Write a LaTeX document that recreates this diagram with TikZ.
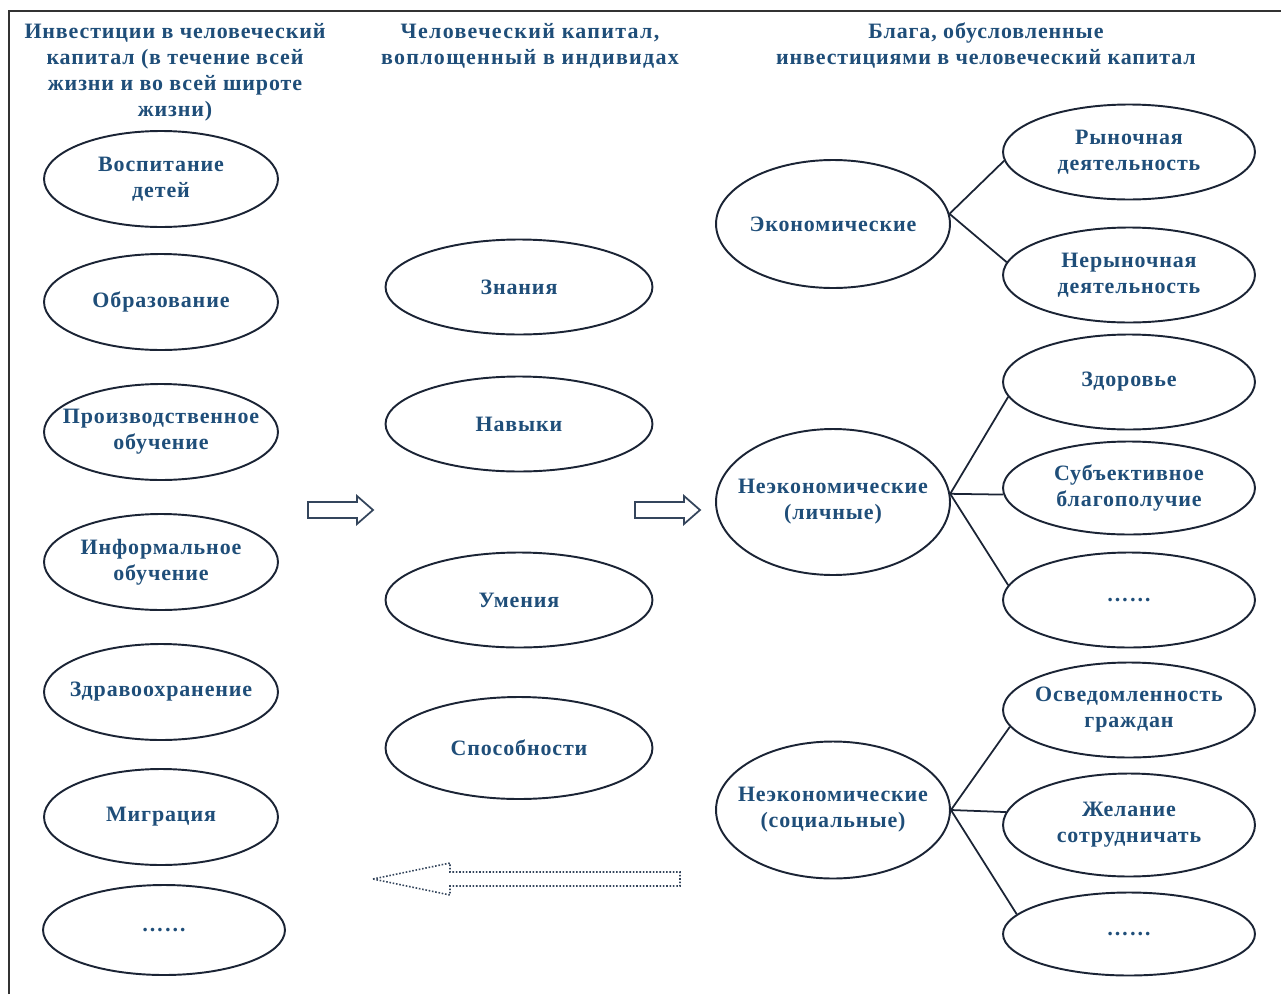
\documentclass[tikz,border=0pt]{standalone}
\usepackage{fontspec}
\setmainfont{Liberation Serif}
\newfontfamily\lblfont[LetterSpace=4]{Liberation Serif Bold}
\newfontfamily\widefont[LetterSpace=6]{Liberation Serif Bold}
\usepackage{xcolor}
\usetikzlibrary{shapes.geometric}
\definecolor{txtblue}{HTML}{1F4E79}
\definecolor{ink}{HTML}{1B2435}
\definecolor{arrink}{HTML}{34455C}

\begin{document}
\begin{tikzpicture}[x=0.02cm,y=-0.02cm,
    oval/.style={ellipse, draw=ink, line width=1.1pt, text=txtblue, align=center, inner xsep=-1.2cm, inner ysep=0pt,
        font=\lblfont\fontsize{12.5}{14.8}\selectfont},
    head/.style={text=txtblue, align=center, inner sep=0pt, font=\lblfont\fontsize{12.5}{14.8}\selectfont},
    lcol/.style={oval, minimum width=4.68cm, minimum height=1.92cm},
    mcol/.style={oval, minimum width=5.34cm, minimum height=1.9cm},
    kcol/.style={oval, minimum width=4.68cm},
    rcol/.style={oval, minimum width=5.04cm, minimum height=1.9cm},
    link/.style={draw=ink, line width=1pt}]
    \useasboundingbox (0,0) rectangle (1281,994);
    \draw[line width=1.1pt, black!80] (9,994) -- (9,11) -- (1281,11);

    % headers
    \node[head] (hleft) at (175,72) {Инвестиции в человеческий\\капитал (в течение всей\\жизни и во всей широте\\жизни)};
    \node[head, font=\widefont\fontsize{12.5}{14.8}\selectfont] (hmid) at (530,46) {Человеческий капитал,\\воплощенный в индивидах};
    \node[head] (hright) at (986,46) {Блага, обусловленные\\инвестициями в человеческий капитал};

    % investments
    \node[lcol] (vosp) at (161,179) {Воспитание\\детей};
    \node[lcol] (obr) at (161,302) {Образование};
    \node[lcol] (proizv) at (161,432) {Производственное\\обучение};
    \node[lcol] (inform) at (161,562) {Информальное\\обучение};
    \node[lcol] (zdrav) at (161,692) {Здравоохранение};
    \node[lcol] (migr) at (161,817) {Миграция};
    \node[lcol, minimum width=4.84cm, minimum height=1.8cm] (ldots) at (164,930) {……};

    % human capital
    \node[mcol] (znan) at (519,287) {Знания};
    \node[mcol] (navyk) at (519,424) {Навыки};
    \node[mcol] (umen) at (519,600) {Умения};
    \node[mcol, minimum height=2.04cm] (sposob) at (519,748) {Способности};

    % benefits
    \node[kcol, minimum height=2.56cm] (econ) at (833,224) {Экономические};
    \node[kcol, minimum height=2.92cm] (lichn) at (833,502) {Неэкономические\\(личные)};
    \node[kcol, minimum height=2.74cm] (soc) at (833,810) {Неэкономические\\(социальные)};

    \node[rcol] (rynoch) at (1129,152) {Рыночная\\деятельность};
    \node[rcol] (nerynoch) at (1129,275) {Нерыночная\\деятельность};
    \node[rcol] (zdor) at (1129,382) {Здоровье};
    \node[rcol, minimum height=1.86cm] (subj) at (1129,488) {Субъективное\\благополучие};
    \node[rcol] (rdots1) at (1129,600) {……};
    \node[rcol] (osved) at (1129,710) {Осведомленность\\граждан};
    \node[rcol, minimum height=2.06cm] (zhel) at (1129,825) {Желание\\сотрудничать};
    \node[rcol, minimum height=1.66cm] (rdots2) at (1129,934) {……};

    \draw[link] (econ.5) -- (rynoch.184);
    \draw[link] (econ.5) -- (nerynoch.174);
    \draw[link] (lichn.4) -- (zdor.187);
    \draw[link] (lichn.4) -- (subj.183);
    \draw[link] (lichn.4) -- (rdots1.173);
    \draw[link] (soc.0) -- (osved.188);
    \draw[link] (soc.0) -- (zhel.174);
    \draw[link] (soc.0) -- (rdots2.170);

    % block arrows
    \foreach \s in {0,327}
        \draw[arrink, line width=1pt, fill=white, shift={(\s,0)}] (308,502) -- (357,502) -- (357,496) -- (373,510)
            -- (357,524) -- (357,518) -- (308,518) -- cycle;
    \draw[arrink, densely dotted, line width=0.9pt] (373,879) -- (450,863) -- (450,872) -- (680,872)
        -- (680,886) -- (450,886) -- (450,895) -- cycle;
\end{tikzpicture}
\end{document}
